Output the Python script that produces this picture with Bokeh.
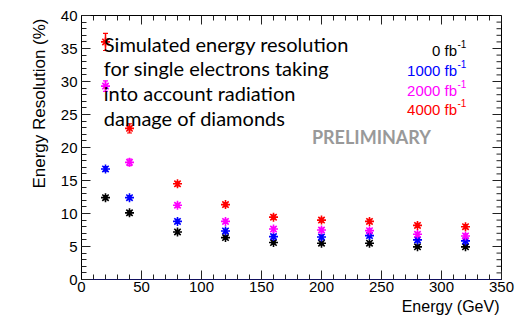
from bokeh.plotting import figure
from bokeh.models import (Range1d, LinearAxis, SingleIntervalTicker, Whisker,
                          TeeHead, ColumnDataSource, Label, Title)
from bokeh.embed import file_html
from bokeh.resources import INLINE

# ---- data ----
energy = [20, 40, 80, 120, 160, 200, 240, 280, 320]
res_0 = [12.4, 10.1, 7.2, 6.35, 5.6, 5.5, 5.5, 4.95, 4.95]
err_0 = [0.3, 0.3, 0.25, 0.25, 0.25, 0.25, 0.25, 0.25, 0.25]
res_1000 = [16.75, 12.4, 8.8, 7.35, 6.5, 6.45, 6.65, 6.0, 5.85]
err_1000 = [0.35, 0.3, 0.3, 0.3, 0.3, 0.3, 0.3, 0.3, 0.3]
res_2000 = [29.3, 17.75, 11.25, 8.8, 7.65, 7.5, 7.4, 6.85, 6.6]
err_2000 = [0.8, 0.5, 0.3, 0.3, 0.3, 0.3, 0.3, 0.3, 0.3]
res_4000 = [36.0, 22.9, 14.5, 11.35, 9.45, 9.0, 8.8, 8.2, 8.0]
err_4000 = [1.3, 0.7, 0.3, 0.3, 0.3, 0.3, 0.3, 0.3, 0.3]

series_labels = ["0 fb", "1000 fb", "2000 fb", "4000 fb"]
series_colors = ["black", "blue", "magenta", "red"]
x_ticks = [0, 50, 100, 150, 200, 250, 300, 350]
y_ticks = [0, 5, 10, 15, 20, 25, 30, 35, 40]
note_lines = ["Simulated energy resolution", "for single electrons taking",
              "into account radiation", "damage of diamonds"]
x_title = "Energy (GeV)"
y_title = "Energy Resolution (%)"

TICK_FONT = "Liberation Sans"
NOTE_FONT = "Lato"

W, H = 519, 320
BL, BR, BT, BB = 81, 18, 15, 41
p = figure(width=W, height=H, output_backend="svg", toolbar_location=None,
           x_range=Range1d(x_ticks[0], x_ticks[-1]),
           y_range=Range1d(y_ticks[0], y_ticks[-1]),
           x_axis_location=None, y_axis_location=None,
           min_border_left=BL, min_border_right=BR, min_border_top=BT,
           min_border_bottom=BB)
p.xgrid.visible = False
p.ygrid.visible = False
p.outline_line_color = "black"
p.outline_line_width = 1
p.background_fill_color = "white"
p.border_fill_color = "white"

frame_w = W - BL - BR
frame_h = H - BT - BB
px_x = (x_ticks[-1] - x_ticks[0]) / frame_w   # data units per pixel (x)
px_y = (y_ticks[-1] - y_ticks[0]) / frame_h   # data units per pixel (y)


def style_axis(ax):
    ax.major_tick_in = 9
    ax.major_tick_out = 0
    ax.minor_tick_in = 5
    ax.minor_tick_out = 0
    ax.major_tick_line_color = "#222222"
    ax.minor_tick_line_color = "#222222"
    ax.axis_line_color = "black"
    ax.major_label_text_font = TICK_FONT
    ax.major_label_text_font_size = "15px"
    ax.major_label_text_color = "black"


xb = LinearAxis(ticker=SingleIntervalTicker(interval=50, num_minor_ticks=5))
style_axis(xb)
xb.axis_line_color = "#101060"
xb.major_label_standoff = 2
p.add_layout(xb, "below")

yl = LinearAxis(ticker=SingleIntervalTicker(interval=5, num_minor_ticks=5))
style_axis(yl)
yl.major_label_standoff = 4
yl.major_label_orientation = "horizontal"
p.add_layout(yl, "left")

# axis titles, aligned to the far ends (ROOT style)
p.add_layout(Title(text=x_title, align="right", offset=2, standoff=7,
                   vertical_align="top", text_font=TICK_FONT,
                   text_font_size="16px", text_font_style="normal",
                   text_color="black"), "below")
p.add_layout(Title(text=y_title, align="right", offset=3, standoff=17,
                   text_font=TICK_FONT, text_font_size="17px",
                   text_font_style="normal", text_color="black"), "left")

# ---- mirrored ticks on top and right edges ----
x_minor = [a + (b - a) * k / 5 for a, b in zip(x_ticks[:-1], x_ticks[1:]) for k in range(1, 5)]
y_minor = [a + (b - a) * k / 5 for a, b in zip(y_ticks[:-1], y_ticks[1:]) for k in range(1, 5)]
ytop = y_ticks[-1]
xright = x_ticks[-1]
p.segment(x0=x_ticks, y0=[ytop] * len(x_ticks), x1=x_ticks,
          y1=[ytop - 9 * px_y] * len(x_ticks), line_color="#222222", line_width=1)
p.segment(x0=x_minor, y0=[ytop] * len(x_minor), x1=x_minor,
          y1=[ytop - 5 * px_y] * len(x_minor), line_color="#222222", line_width=1)
p.segment(x0=[xright] * len(y_ticks), y0=y_ticks, x1=[xright - 9 * px_x] * len(y_ticks),
          y1=y_ticks, line_color="#222222", line_width=1)
p.segment(x0=[xright] * len(y_minor), y0=y_minor, x1=[xright - 5 * px_x] * len(y_minor),
          y1=y_minor, line_color="#222222", line_width=1)

# ---- data points with error bars ----
all_res = [res_0, res_1000, res_2000, res_4000]
all_err = [err_0, err_1000, err_2000, err_4000]
for res, err, col in zip(all_res, all_err, series_colors):
    src = ColumnDataSource(dict(
        x=energy, y=res,
        lo=[r - e for r, e in zip(res, err)],
        hi=[r + e for r, e in zip(res, err)]))
    w = Whisker(base="x", lower="lo", upper="hi", source=src,
                line_color=col, line_width=1.5,
                upper_head=TeeHead(size=5, line_color=col, line_width=1.2),
                lower_head=TeeHead(size=5, line_color=col, line_width=1.2))
    p.add_layout(w)
    p.scatter("x", "y", source=src, marker="asterisk", size=9,
              line_color=col, line_width=1.6)

# ---- annotation text ----
shift = 6 * px_y
note_y = [34.7, 31.1, 27.3, 23.5]
for txt, yy in zip(note_lines, note_y):
    p.add_layout(Label(x=18.6, y=yy + shift, text=txt, text_font=NOTE_FONT,
                       text_font_size="20px", text_color="black",
                       text_baseline="alphabetic", text_align="left"))

leg_y = [33.8, 30.8, 27.8, 24.9]
for txt, col, yy in zip(series_labels, series_colors, leg_y):
    p.add_layout(Label(x=313.0, y=yy + shift, text=txt, text_font=TICK_FONT,
                       text_font_size="15px", text_color=col,
                       text_align="right", text_baseline="alphabetic"))
    p.add_layout(Label(x=313.3, y=yy + shift + 0.9, text="-1", text_font=TICK_FONT,
                       text_font_size="10px", text_color=col,
                       text_align="left", text_baseline="alphabetic"))

p.add_layout(Label(x=192.0, y=20.65 + shift, text="PRELIMINARY", text_font=NOTE_FONT,
                   text_font_size="18px", text_font_style="bold",
                   text_color="#999999", text_baseline="alphabetic"))

open("out.html", "w").write(file_html(p, INLINE))
